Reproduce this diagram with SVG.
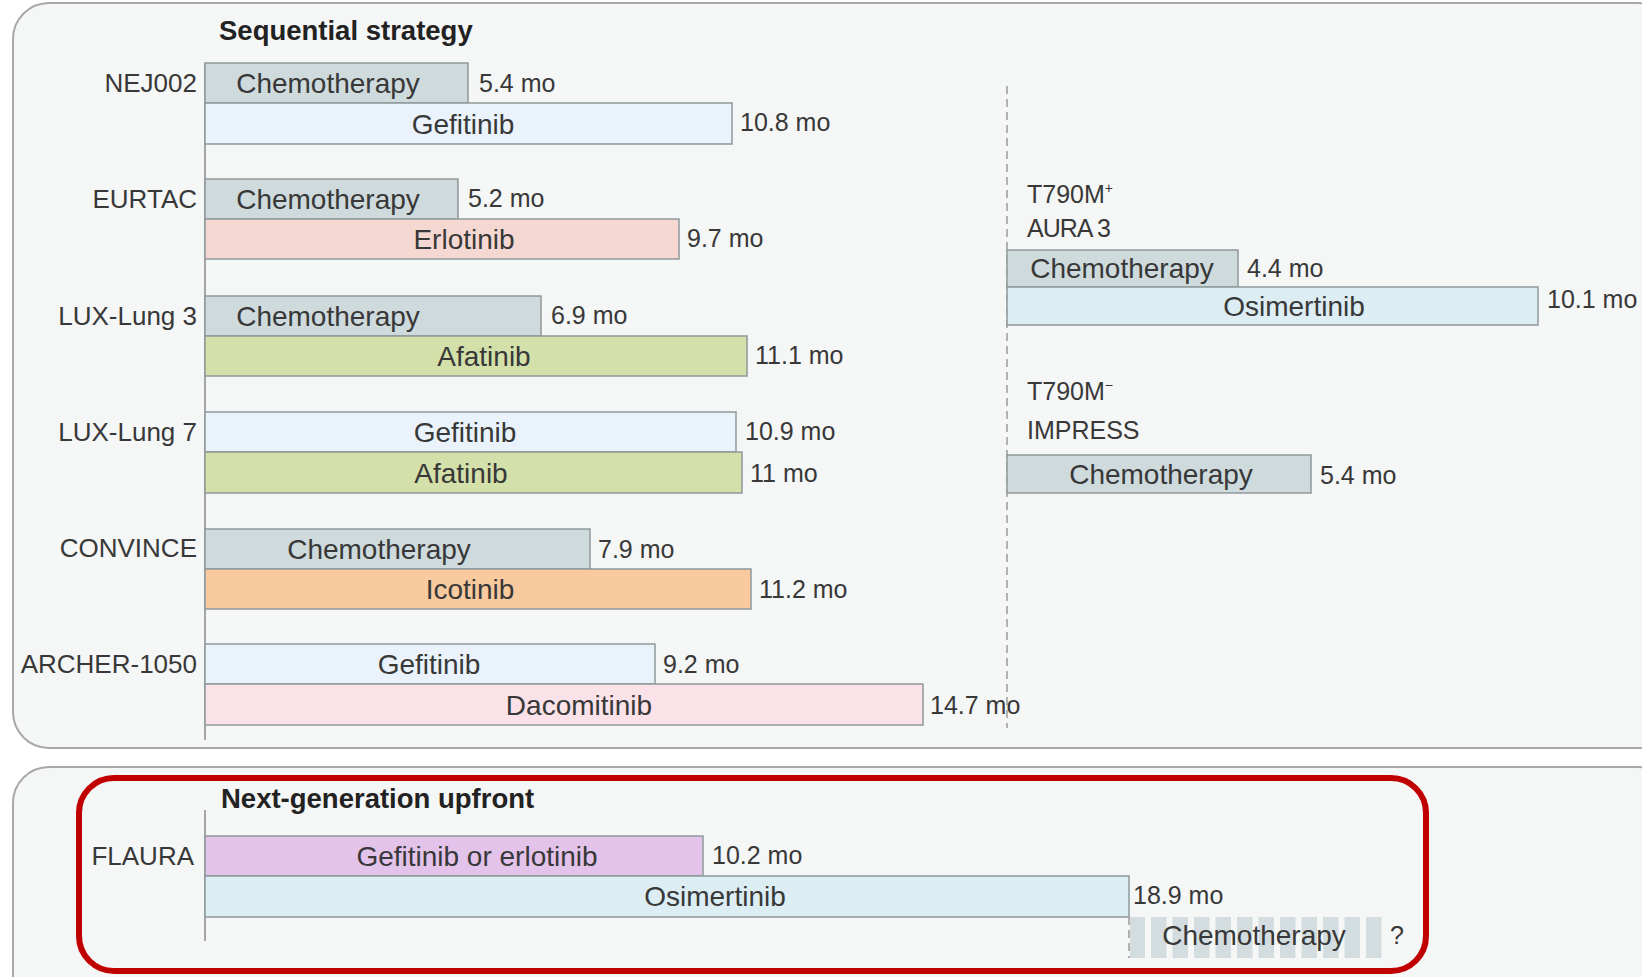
<svg xmlns="http://www.w3.org/2000/svg" width="1642" height="977" viewBox="0 0 1642 977">
<style>
text{font-family:"Liberation Sans",Arial,sans-serif;fill:#383838}
.t{font-size:28px;text-anchor:middle}
.lab{font-size:26px;text-anchor:end}
.v{font-size:25px}
.h{font-size:27.5px;font-weight:bold;fill:#222}
.r{font-size:25px}
.bar{stroke:#8e999b;stroke-width:1.5}
.chemo{fill:#cfdadd}
.gef{fill:#eaf3fb}
.erl{fill:#f6d8d2}
.afa{fill:#d4e0a9}
.ico{fill:#f9ca9e}
.dac{fill:#fae2e8}
.osi{fill:#dcedf4}
.ge{fill:#e3c3ea}
.axis{stroke:#8a8a8a;stroke-width:1.5;fill:none}
.dash{stroke:#9a9a9a;stroke-width:1.5;stroke-dasharray:8 5;fill:none}
.panel{fill:#f5f6f6;stroke:#a8a8a8;stroke-width:2}
.stripe{fill:#d3dde0}
</style>
<rect width="1642" height="977" fill="#ffffff"/>
<g id="panels">
<rect class="panel" x="13" y="3" width="1660" height="745" rx="36"/>
<rect class="panel" x="13" y="767" width="1660" height="245" rx="36"/>
</g>
<g id="connectors">
<line class="axis" x1="205" y1="63" x2="205" y2="740"/>
<line class="axis" x1="205" y1="810" x2="205" y2="941"/>
<line class="dash" x1="1007" y1="86" x2="1007" y2="728"/>
</g>
<text class="h" x="219" y="40">Sequential strategy</text>
<g id="nej002">
<text class="lab" x="197" y="92">NEJ002</text>
<rect class="bar chemo" x="205" y="63" width="263" height="40"/>
<rect class="bar gef" x="205" y="103" width="527" height="41"/>
<text class="t" x="328" y="93">Chemotherapy</text>
<text class="t" x="463" y="134">Gefitinib</text>
<text class="v" x="479" y="92">5.4 mo</text>
<text class="v" x="740" y="131">10.8 mo</text>
</g>
<g id="eurtac">
<text class="lab" x="197" y="208">EURTAC</text>
<rect class="bar chemo" x="205" y="179" width="253" height="40"/>
<rect class="bar erl" x="205" y="219" width="474" height="40"/>
<text class="t" x="328" y="209">Chemotherapy</text>
<text class="t" x="464" y="249">Erlotinib</text>
<text class="v" x="468" y="207">5.2 mo</text>
<text class="v" x="687" y="247">9.7 mo</text>
</g>
<g id="lux-lung-3">
<text class="lab" x="197" y="325">LUX-Lung 3</text>
<rect class="bar chemo" x="205" y="296" width="336" height="40"/>
<rect class="bar afa" x="205" y="336" width="542" height="40"/>
<text class="t" x="328" y="326">Chemotherapy</text>
<text class="t" x="484" y="366">Afatinib</text>
<text class="v" x="551" y="324">6.9 mo</text>
<text class="v" x="755" y="364">11.1 mo</text>
</g>
<g id="lux-lung-7">
<text class="lab" x="197" y="441">LUX-Lung 7</text>
<rect class="bar gef" x="205" y="412" width="531" height="40"/>
<rect class="bar afa" x="205" y="452" width="537" height="41"/>
<text class="t" x="465" y="442">Gefitinib</text>
<text class="t" x="461" y="483">Afatinib</text>
<text class="v" x="745" y="440">10.9 mo</text>
<text class="v" x="750" y="482">11 mo</text>
</g>
<g id="convince">
<text class="lab" x="197" y="557">CONVINCE</text>
<rect class="bar chemo" x="205" y="529" width="385" height="40"/>
<rect class="bar ico" x="205" y="569" width="546" height="40"/>
<text class="t" x="379" y="559">Chemotherapy</text>
<text class="t" x="470" y="599">Icotinib</text>
<text class="v" x="598" y="558">7.9 mo</text>
<text class="v" x="759" y="598">11.2 mo</text>
</g>
<g id="archer-1050">
<text class="lab" x="197" y="673">ARCHER-1050</text>
<rect class="bar gef" x="205" y="644" width="450" height="40"/>
<rect class="bar dac" x="205" y="684" width="718" height="41"/>
<text class="t" x="429" y="674">Gefitinib</text>
<text class="t" x="579" y="715">Dacomitinib</text>
<text class="v" x="663" y="673">9.2 mo</text>
<text class="v" x="930" y="714">14.7 mo</text>
</g>
<g id="aura3">
<text class="r" x="1027" y="203">T790M<tspan font-size="14" dy="-10">+</tspan></text>
<text class="r" x="1027" y="237" letter-spacing="-1">AURA 3</text>
<rect class="bar chemo" x="1007" y="250" width="231" height="37"/>
<rect class="bar osi" x="1007" y="287" width="531" height="38"/>
<text class="t" x="1122" y="278">Chemotherapy</text>
<text class="t" x="1294" y="316">Osimertinib</text>
<text class="v" x="1247" y="277">4.4 mo</text>
<text class="v" x="1547" y="308">10.1 mo</text>
</g>
<g id="impress">
<text class="r" x="1027" y="400">T790M<tspan font-size="14" dy="-10">−</tspan></text>
<text class="r" x="1027" y="439">IMPRESS</text>
<rect class="bar chemo" x="1007" y="455" width="304" height="38"/>
<text class="t" x="1161" y="484">Chemotherapy</text>
<text class="v" x="1320" y="484">5.4 mo</text>
</g>
<rect id="highlight" x="79" y="778" width="1347" height="193" rx="35" fill="none" stroke="#c00000" stroke-width="6"/>
<text class="h" x="221" y="808">Next-generation upfront</text>
<g id="flaura">
<text class="lab" x="194" y="865">FLAURA</text>
<rect class="bar ge" x="205" y="836" width="498" height="40"/>
<rect class="bar osi" x="205" y="876" width="924" height="41"/>
<text class="t" x="477" y="866">Gefitinib or erlotinib</text>
<text class="t" x="715" y="906">Osimertinib</text>
<text class="v" x="712" y="864">10.2 mo</text>
<text class="v" x="1133" y="904">18.9 mo</text>
<g id="flaura-chemo">
<rect class="stripe" x="1130" y="917" width="15" height="41"/>
<rect class="stripe" x="1151" y="917" width="15.5" height="41"/>
<rect class="stripe" x="1172.5" y="917" width="15.5" height="41"/>
<rect class="stripe" x="1194" y="917" width="15.5" height="41"/>
<rect class="stripe" x="1215.5" y="917" width="15.5" height="41"/>
<rect class="stripe" x="1237" y="917" width="15.5" height="41"/>
<rect class="stripe" x="1258.5" y="917" width="15.5" height="41"/>
<rect class="stripe" x="1280" y="917" width="15.5" height="41"/>
<rect class="stripe" x="1301.5" y="917" width="15.5" height="41"/>
<rect class="stripe" x="1323" y="917" width="15.5" height="41"/>
<rect class="stripe" x="1344.5" y="917" width="15.5" height="41"/>
<rect class="stripe" x="1366" y="917" width="15.5" height="41"/>
<line class="dash" x1="1129" y1="917" x2="1129" y2="958" stroke-dasharray="5 4"/>
<text class="t" x="1254" y="945">Chemotherapy</text>
<text class="v" x="1397" y="944" text-anchor="middle">?</text>
</g>
</g>
</svg>
